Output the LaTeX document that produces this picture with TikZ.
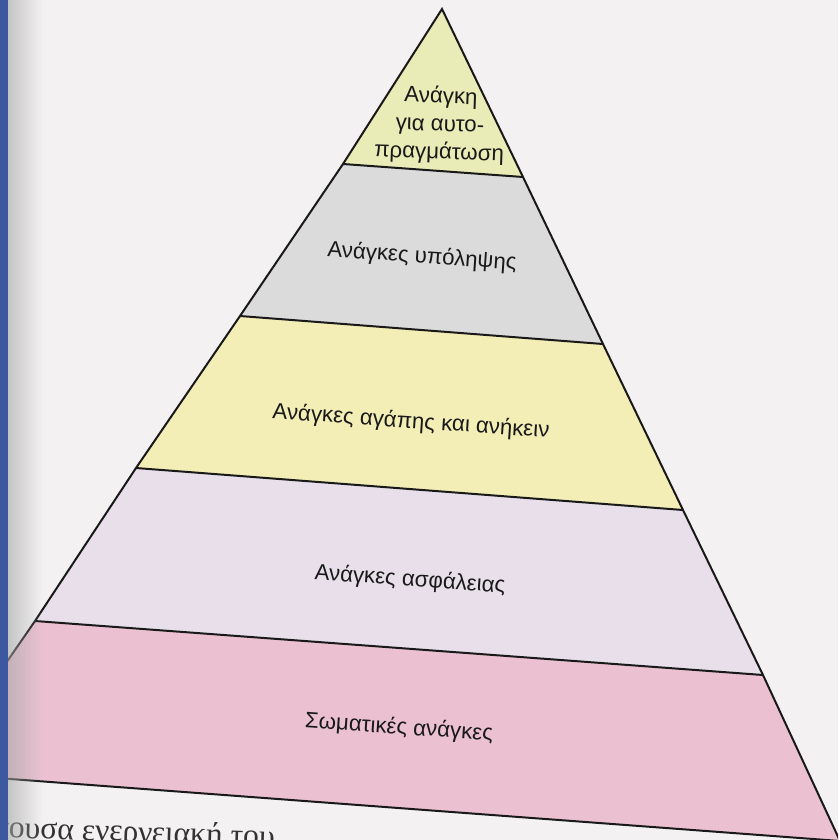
\documentclass[tikz,border=0pt]{standalone}
\usepackage{fontspec}
\setmainfont{Liberation Sans}
\newfontfamily\bookfont{Liberation Serif}
\usetikzlibrary{fadings}
\definecolor{paper}{RGB}{243,241,241}
\definecolor{lvA}{RGB}{233,236,182}
\definecolor{lvB}{RGB}{219,219,220}
\definecolor{lvC}{RGB}{243,237,182}
\definecolor{lvD}{RGB}{232,223,234}
\definecolor{lvE}{RGB}{235,193,210}
\definecolor{spine}{RGB}{60,88,160}
\tikzset{
  edge/.style={line width=1.7pt, black!90},
  label/.style={font=\fontsize{19}{23.8}\selectfont, align=center, rotate=-4, inner sep=0pt, text=black!90},
  bodytext/.style={font=\bookfont\fontsize{27}{30}\selectfont, rotate=-2, inner sep=0pt, text=black!80}
}
\begin{document}
\begin{tikzpicture}[x=0.03cm,y=-0.03cm]
\useasboundingbox (0,0) rectangle (838,840);
\clip (0,0) rectangle (838,840);
\fill[paper] (0,0) rectangle (838,840);
% corners
\coordinate (apex) at (442,9);
\coordinate (l1) at (343,164); \coordinate (r1) at (523,177);
\coordinate (l2) at (240,316); \coordinate (r2) at (603,344);
\coordinate (l3) at (136,468); \coordinate (r3) at (683,510);
\coordinate (l4) at (35,621);  \coordinate (r4) at (763,675);
\coordinate (l5) at (-70,773); \coordinate (r5) at (840,841);
% bands
\fill[lvA] (apex) -- (r1) -- (l1) -- cycle;
\fill[lvB] (l1) -- (r1) -- (r2) -- (l2) -- cycle;
\fill[lvC] (l2) -- (r2) -- (r3) -- (l3) -- cycle;
\fill[lvD] (l3) -- (r3) -- (r4) -- (l4) -- cycle;
\fill[lvE] (l4) -- (r4) -- (r5) -- (l5) -- cycle;
% outlines
\draw[edge, line join=miter] (l5) -- (l4) -- (l3) -- (l2) -- (l1) -- (apex) -- (r1) -- (r2) -- (r3) -- (r4) -- (r5);
\draw[edge] (l1) -- (r1);
\draw[edge] (l2) -- (r2);
\draw[edge] (l3) -- (r3);
\draw[edge] (l4) -- (r4);
\draw[edge] (l5) -- (r5);
% labels
\node[label, rotate=2] (t1) at (440,125) {Ανάγκη\\για αυτο-\\πραγμάτωση};
\node[label] (t2) at (422,257) {Ανάγκες υπόληψης};
\node[label] (t3) at (411,422) {Ανάγκες αγάπης και ανήκειν};
\node[label] (t4) at (410,580) {Ανάγκες ασφάλειας};
\node[label] (t5) at (399,728) {Σωματικές ανάγκες};
% page text at the bottom
\node[bodytext, anchor=base west] (body) at (-5,837) {χουσα ενεργειακή του};
% spine shadow and blue edge
\fill[black!35, opacity=0.6, path fading=east] (7,0) rectangle (42,840);
\fill[spine] (0,0) rectangle (7.5,840);
\end{tikzpicture}
\end{document}
